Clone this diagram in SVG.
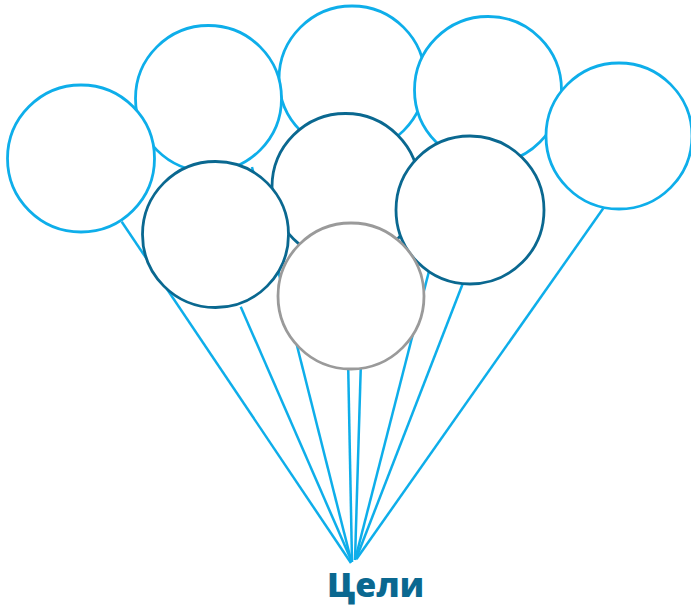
<svg xmlns="http://www.w3.org/2000/svg" width="691" height="607" viewBox="0 0 691 607">
<style>
.s{stroke:#0eaeea;stroke-width:2.5;fill:none}
.l{fill:#fff;stroke:#0eaeea;stroke-width:2.8}
.d{fill:#fff;stroke:#0a6890;stroke-width:2.8}
.g{fill:#fff;stroke:#9a9a9a;stroke-width:2.8}
.t{font-family:"Open Sans","DejaVu Sans",sans-serif;font-weight:800;font-size:34px;fill:#0a6890}
</style>
<rect width="691" height="607" fill="#fff"/>
<g id="connectors">
<line class="s" x1="121.7" y1="221.7" x2="351" y2="563"/>
<line class="s" x1="252" y1="167" x2="351.5" y2="562"/>
<line class="s" x1="240.7" y1="306.7" x2="352" y2="562"/>
<line class="s" x1="344" y1="152" x2="352" y2="562"/>
<line class="s" x1="364" y1="260" x2="355" y2="560"/>
<line class="s" x1="458" y1="158" x2="355" y2="560"/>
<line class="s" x1="463" y1="283" x2="356" y2="559"/>
<line class="s" x1="603.3" y1="208.3" x2="356.5" y2="559"/>
</g>
<g id="balloon-c"><circle class="l" cx="352" cy="79" r="73"/></g>
<g id="balloon-b"><circle class="l" cx="208.5" cy="98.5" r="73"/></g>
<g id="balloon-a"><circle class="l" cx="81" cy="158.5" r="73.5"/></g>
<g id="balloon-d"><circle class="l" cx="488" cy="90" r="73.5"/></g>
<g id="balloon-e"><circle class="l" cx="619" cy="136" r="73"/></g>
<g id="balloon-f"><circle class="d" cx="345.5" cy="187" r="73.5"/></g>
<g id="balloon-g"><circle class="d" cx="215.5" cy="234.5" r="73"/></g>
<g id="balloon-h"><circle class="d" cx="470" cy="210" r="74"/></g>
<g id="balloon-i"><circle class="g" cx="351" cy="296" r="73"/></g>
<g id="label"><text class="t" x="375.5" y="597" text-anchor="middle">Цели</text></g>
</svg>
